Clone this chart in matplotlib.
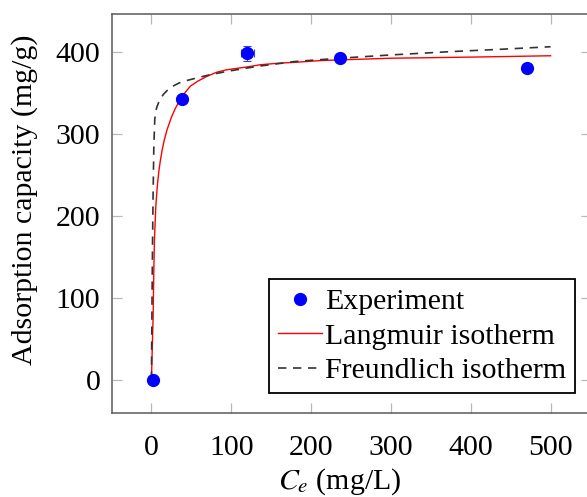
import numpy as np
import matplotlib
matplotlib.use('Agg')
import matplotlib.pyplot as plt
from matplotlib.lines import Line2D

plt.rcParams['font.family'] = ['Liberation Serif', 'DejaVu Serif']
plt.rcParams['mathtext.fontset'] = 'stix'

###Datos experimentales
ce_exp = [2, 38, 120, 236, 470]
qe_exp = [0, 342, 398, 392, 380]
xerr_exp = [0, 0, 8, 0, 0]
yerr_exp = [0, 0, 9, 0, 0]

###Curvas
ce_lang = [0, 1.0, 2.1, 3.0, 3.8, 5.5, 7.5, 9.5, 11.3, 13.4, 16, 19.6, 25, 30, 36.3,
           42, 48.8, 58, 69.7, 82, 94.7, 110, 124, 136, 160, 180, 210, 236, 270,
           300, 340, 374, 410, 440, 470, 500]
q_lang = [0, 38, 77, 135, 172, 212, 238, 256, 268, 280, 292, 305, 320, 331, 342,
          350, 358, 364, 370, 375, 378, 380, 382, 384, 386, 387, 389, 390, 391,
          392, 392.5, 393, 393.5, 394, 394.5, 395]

ce_freu = [0, 0.4, 0.8, 1.4, 2.1, 3.0, 4.2, 5.5, 7, 9, 11.3, 15, 20, 25, 35, 45,
           61, 74, 95, 132, 180, 236, 300, 374, 440, 500]
q_freu = [0, 55, 106, 170, 228, 285, 318, 328, 333, 338, 342, 348, 353, 357, 362,
          365, 369, 372, 376, 382, 388, 392, 396, 400, 403, 406]

fs = 21.5

fig = plt.figure(figsize=(5.87, 4.97), dpi=100)
ax = fig.add_axes([0.190, 0.169, 0.816, 0.803])

l_lang, = ax.plot(ce_lang, q_lang, color='red', lw=1.0, zorder=2)
l_freu, = ax.plot(ce_freu, q_freu, color='#333333', lw=1.2, ls=(0, (5, 4)), zorder=2)
ax.errorbar(ce_exp, qe_exp, xerr=xerr_exp, yerr=yerr_exp, fmt='o', color='blue',
            ms=8.5, ecolor='#3a3aff', elinewidth=0.8, capsize=3, capthick=0.8,
            zorder=3)

ax.set_xlim(-50, 550)
ax.set_ylim(-40.5, 446)
ax.set_xticks([0, 100, 200, 300, 400, 500])
ax.set_yticks([0, 100, 200, 300, 400])

for s in ax.spines.values():
    s.set_color('#5a5a5a')
    s.set_linewidth(1.1)

ax.tick_params(direction='in', length=7, width=0.9, color='#b8b8b8',
               top=True, right=True, labelsize=fs)
ax.tick_params(axis='x', pad=16)
ax.tick_params(axis='y', pad=8)

ax.set_xlabel('$C_e$ (mg/L)', fontsize=fs, va='center')
ax.xaxis.set_label_coords(0.477, -0.172)
ax.set_ylabel('Adsorption capacity (mg/g)', fontsize=fs, va='center')
ax.yaxis.set_label_coords(-0.182, 0.534)

###Leyenda (solo el marcador para el experimento)
h_exp = Line2D([], [], ls='none', marker='o', color='blue', ms=8.5)
leg = ax.legend([h_exp, l_lang, l_freu],
                ['Experiment', 'Langmuir isotherm', 'Freundlich isotherm'],
                loc='lower right', bbox_to_anchor=(0.968, 0.05), borderaxespad=0,
                fontsize=fs, fancybox=False, framealpha=1, edgecolor='black',
                handlelength=1.45, handletextpad=0.12, labelspacing=0.25,
                borderpad=0.3)
leg.get_frame().set_linewidth(1.3)

fig.savefig('out.png', dpi=100)
